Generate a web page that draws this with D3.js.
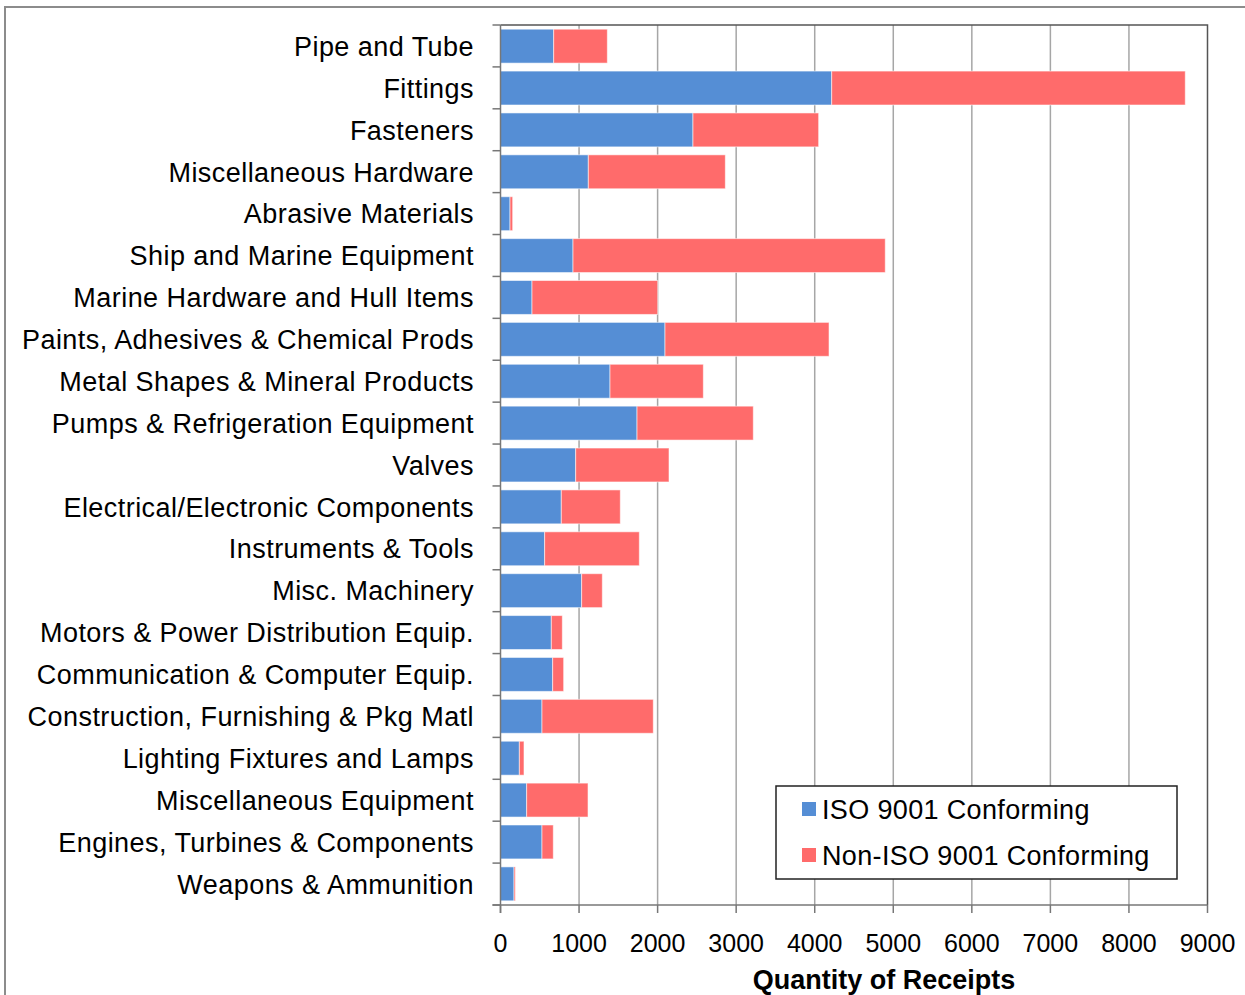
<!DOCTYPE html>
<html>
<head>
<meta charset="utf-8">
<script src="https://cdn.jsdelivr.net/npm/d3@7"></script>
<style>
  body { margin: 0; background: #fff; }
  text { font-family: "Liberation Sans", Arial, sans-serif; fill: #000; }
</style>
</head>
<body>
<div id="chart"></div>
<script>
// categories, top to bottom
var categories = [
  "Pipe and Tube", "Fittings", "Fasteners", "Miscellaneous Hardware",
  "Abrasive Materials", "Ship and Marine Equipment", "Marine Hardware and Hull Items",
  "Paints, Adhesives & Chemical Prods", "Metal Shapes & Mineral Products",
  "Pumps & Refrigeration Equipment", "Valves", "Electrical/Electronic Components",
  "Instruments & Tools", "Misc. Machinery", "Motors & Power Distribution Equip.",
  "Communication & Computer Equip.", "Construction, Furnishing & Pkg Matl",
  "Lighting Fixtures and Lamps", "Miscellaneous Equipment",
  "Engines, Turbines & Components", "Weapons & Ammunition"
];
var isoConforming = [677, 4216, 2450, 1118, 121, 923, 401, 2094, 1394, 1738, 957,
                     774, 562, 1033, 647, 664, 528, 240, 333, 528, 172];
var nonIsoConforming = [683, 4501, 1600, 1744, 34, 3975, 1600, 2088, 1188, 1480, 1188,
                        751, 1205, 263, 140, 140, 1417, 59, 781, 144, 17];
var seriesNames = ["ISO 9001 Conforming", "Non-ISO 9001 Conforming"];
var seriesColors = ["#558ed5", "#ff6b6b"];
var xTicks = [0, 1000, 2000, 3000, 4000, 5000, 6000, 7000, 8000, 9000];

var W = 1245, H = 995;
var plot = { left: 500.5, right: 1207.5, top: 25, bottom: 905 };

var svg = d3.select("#chart").append("svg")
  .attr("width", W).attr("height", H);

svg.append("rect").attr("width", W).attr("height", H).attr("fill", "#fff");

// outer chart frame (partly off-page)
svg.append("rect")
  .attr("x", 5).attr("y", 7).attr("width", W + 20).attr("height", H + 20)
  .attr("fill", "none").attr("stroke", "#8c8c8c").attr("stroke-width", 2);

var x = d3.scaleLinear().domain([0, 9000]).range([plot.left, plot.right]);
var y = d3.scaleBand().domain(categories).range([plot.top, plot.bottom])
  .paddingInner(0.19).paddingOuter(0.1);

// gridlines
svg.append("g").selectAll("line").data(xTicks.slice(1, -1)).enter().append("line")
  .attr("x1", function (d) { return x(d); }).attr("x2", function (d) { return x(d); })
  .attr("y1", plot.top).attr("y2", plot.bottom)
  .attr("stroke", "#a6a6a6").attr("stroke-width", 1.5);

// stacked bars
var rows = categories.map(function (c, i) {
  return { cat: c, iso: isoConforming[i], non: nonIsoConforming[i] };
});
var stack = d3.stack().keys(["iso", "non"])(rows);

svg.append("g").selectAll("g").data(stack).enter().append("g")
  .attr("fill", function (d, i) { return seriesColors[i]; })
  .selectAll("rect").data(function (d) { return d; }).enter().append("rect")
  .attr("x", function (d) { return x(d[0]); })
  .attr("width", function (d) { return x(d[1]) - x(d[0]); })
  .attr("y", function (d) { return y(d.data.cat); })
  .attr("height", y.bandwidth())
  .attr("stroke", "#fff").attr("stroke-opacity", 0.55).attr("stroke-width", 1);

// plot border top/right
svg.append("path")
  .attr("d", "M" + plot.left + "," + plot.top + "H" + plot.right + "V" + plot.bottom)
  .attr("fill", "none").attr("stroke", "#555").attr("stroke-width", 1.5);

// y axis: line and ticks between categories
var yAxis = svg.append("g");
yAxis.append("line")
  .attr("x1", plot.left).attr("x2", plot.left)
  .attr("y1", plot.top).attr("y2", plot.bottom + 8)
  .attr("stroke", "#777").attr("stroke-width", 1.5);
var step = (plot.bottom - plot.top) / categories.length;
yAxis.selectAll(".tk").data(d3.range(categories.length + 1)).enter().append("line")
  .attr("x1", plot.left - 8).attr("x2", plot.left)
  .attr("y1", function (i) { return plot.top + i * step; })
  .attr("y2", function (i) { return plot.top + i * step; })
  .attr("stroke", "#777").attr("stroke-width", 1.5);
yAxis.selectAll("text").data(categories).enter().append("text")
  .attr("x", 474)
  .attr("y", function (d) { return y(d) + y.bandwidth() / 2; })
  .attr("dy", "0.36em")
  .attr("text-anchor", "end")
  .style("font-size", "27px").style("letter-spacing", "0.45px")
  .text(function (d) { return d; });

// x axis
var xAxis = svg.append("g");
xAxis.append("line")
  .attr("x1", plot.left - 8).attr("x2", plot.right)
  .attr("y1", plot.bottom).attr("y2", plot.bottom)
  .attr("stroke", "#777").attr("stroke-width", 1.5);
xAxis.selectAll(".tk").data(xTicks).enter().append("line")
  .attr("x1", function (d) { return x(d); }).attr("x2", function (d) { return x(d); })
  .attr("y1", plot.bottom).attr("y2", plot.bottom + 8)
  .attr("stroke", "#777").attr("stroke-width", 1.5);
xAxis.selectAll("text").data(xTicks).enter().append("text")
  .attr("x", function (d) { return x(d); })
  .attr("y", 952)
  .attr("text-anchor", "middle")
  .style("font-size", "25px")
  .text(function (d) { return d; });

svg.append("text")
  .attr("x", 884).attr("y", 989)
  .attr("text-anchor", "middle")
  .style("font-size", "27px").style("font-weight", "bold")
  .text("Quantity of Receipts");

// legend
var lg = svg.append("g");
lg.append("rect")
  .attr("x", 776).attr("y", 786).attr("width", 401).attr("height", 93)
  .attr("fill", "#fff").attr("stroke", "#222").attr("stroke-width", 1.5);
var items = lg.selectAll(".item").data(seriesNames).enter().append("g")
  .attr("transform", function (d, i) { return "translate(802," + (802 + i * 46) + ")"; });
items.append("rect")
  .attr("width", 14).attr("height", 14)
  .attr("fill", function (d, i) { return seriesColors[i]; });
items.append("text")
  .attr("x", 20).attr("y", 7).attr("dy", "0.36em")
  .style("font-size", "27px").style("letter-spacing", "0.35px")
  .text(function (d) { return d; });
</script>
</body>
</html>
